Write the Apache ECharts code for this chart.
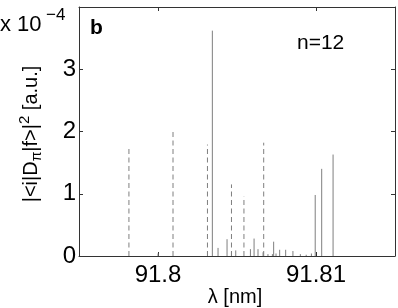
<!DOCTYPE html>
<html>
<head>
<meta charset="utf-8">
<script src="https://cdn.jsdelivr.net/npm/echarts@6/dist/echarts.min.js"></script>
<style>
html,body{margin:0;padding:0;background:#fff;}
#chart{width:398px;height:308px;}
</style>
</head>
<body>
<div id="chart"></div>
<script>
// wavelengths in nm, intensities in units of 1e-4 a.u.
const dashedLambda = [91.79816, 91.80095, 91.80313, 91.80465, 91.80544, 91.80669];
const dashedValue  = [1.74, 2.00, 1.79, 1.15, 0.96, 1.82];
const solidLambda = [91.80000, 91.80344, 91.80380, 91.80437, 91.80465, 91.80492, 91.80585, 91.80608,
                     91.80633, 91.80665, 91.80696, 91.80724, 91.80732, 91.80747, 91.80770, 91.80808,
                     91.80854, 91.80901, 91.80938, 91.80971, 91.80995, 91.81036, 91.81108];
const solidValue  = [0.04, 3.62, 0.13, 0.27, 0.06, 0.09, 0.11, 0.28,
                     0.11, 0.06, 0.03, 0.03, 0.23, 0.04, 0.10, 0.10,
                     0.08, 0.03, 0.02, 0.04, 0.98, 1.40, 1.63];
const xTicks = [91.8, 91.81];
const yTickLabels = ['0', '1', '2', '3', ''];

const FONT = "'Liberation Sans', Arial, Helvetica, sans-serif";
const AXC = '#333';

function stem(dash) {
  return function (params, api) {
    const x = api.value(0), h = api.value(1);
    const p0 = api.coord([x, 0]);
    const p1 = api.coord([x, h]);
    return {
      type: 'line',
      shape: { x1: p0[0], y1: p0[1], x2: p1[0], y2: p1[1] },
      style: { stroke: '#7f7f7f', lineWidth: 1, lineDash: dash }
    };
  };
}

const chart = echarts.init(document.getElementById('chart'), null, { renderer: 'canvas' });
const xBase = {
  type: 'value', min: 91.795, max: 91.815,
  axisLine: { show: true, onZero: false, lineStyle: { color: AXC, width: 1 } },
  axisTick: { show: true, inside: true, length: 4, customValues: xTicks, lineStyle: { color: AXC } },
  splitLine: { show: false }
};
const yBase = {
  type: 'value', min: 0, max: 4, interval: 1,
  axisLine: { show: true, onZero: false, lineStyle: { color: AXC, width: 1 } },
  axisTick: { show: true, inside: true, length: 4, lineStyle: { color: AXC } },
  splitLine: { show: false }
};
chart.setOption({
  animation: false,
  backgroundColor: '#fff',
  grid: { left: 79, right: 3, top: 7, bottom: 52, containLabel: false },
  xAxis: [
    Object.assign({}, xBase, {
      position: 'bottom',
      axisLabel: {
        customValues: xTicks, margin: 19, verticalAlign: 'middle',
        fontFamily: FONT, fontSize: 24, color: '#000',
        formatter: v => (Math.round(v * 100) / 100).toString()
      }
    }),
    Object.assign({}, xBase, { position: 'top', axisLabel: { show: false } })
  ],
  yAxis: [
    Object.assign({}, yBase, {
      position: 'left',
      axisLabel: {
        margin: 3, fontFamily: FONT, fontSize: 24, color: '#000',
        formatter: v => yTickLabels[Math.round(v)]
      }
    }),
    Object.assign({}, yBase, { position: 'right', axisLabel: { show: false } })
  ],
  series: [
    {
      type: 'custom', xAxisIndex: 0, yAxisIndex: 0,
      renderItem: stem([5, 3.5]),
      data: dashedLambda.map((x, i) => [x, dashedValue[i]])
    },
    {
      type: 'custom', xAxisIndex: 0, yAxisIndex: 0,
      renderItem: stem(null),
      data: solidLambda.map((x, i) => [x, solidValue[i]])
    }
  ],
  graphic: [
    { type: 'text', x: 0, y: 25, style: { text: 'x 10', font: '22px ' + FONT, fill: '#000', align: 'left', verticalAlign: 'middle' } },
    { type: 'text', x: 46, y: 15, style: { text: '\u22124', font: '17px ' + FONT, fill: '#000', align: 'left', verticalAlign: 'middle' } },
    { type: 'text', x: 90, y: 28, style: { text: 'b', font: 'bold 21px ' + FONT, fill: '#000', align: 'left', verticalAlign: 'middle' } },
    { type: 'text', x: 297, y: 43, style: { text: 'n=12', font: '21px ' + FONT, fill: '#000', align: 'left', verticalAlign: 'middle' } },
    { type: 'text', x: 235, y: 297, style: { text: '\u03bb [nm]', font: '20px ' + FONT, fill: '#000', align: 'center', verticalAlign: 'middle' } },
    {
      type: 'text', x: 31, y: 134, rotation: Math.PI / 2,
      style: {
        text: '|<i|D{sub|\u03c0}|f>|{sup|2} [a.u.]',
        font: '20px ' + FONT, fill: '#000', align: 'center', verticalAlign: 'middle',
        rich: {
          sub: { fontSize: 14, fontFamily: FONT, fill: '#000', padding: [12, 0, 0, 0] },
          sup: { fontSize: 15, fontFamily: FONT, fill: '#000', padding: [0, 0, 12, 0] }
        }
      }
    }
  ]
});
</script>
</body>
</html>
